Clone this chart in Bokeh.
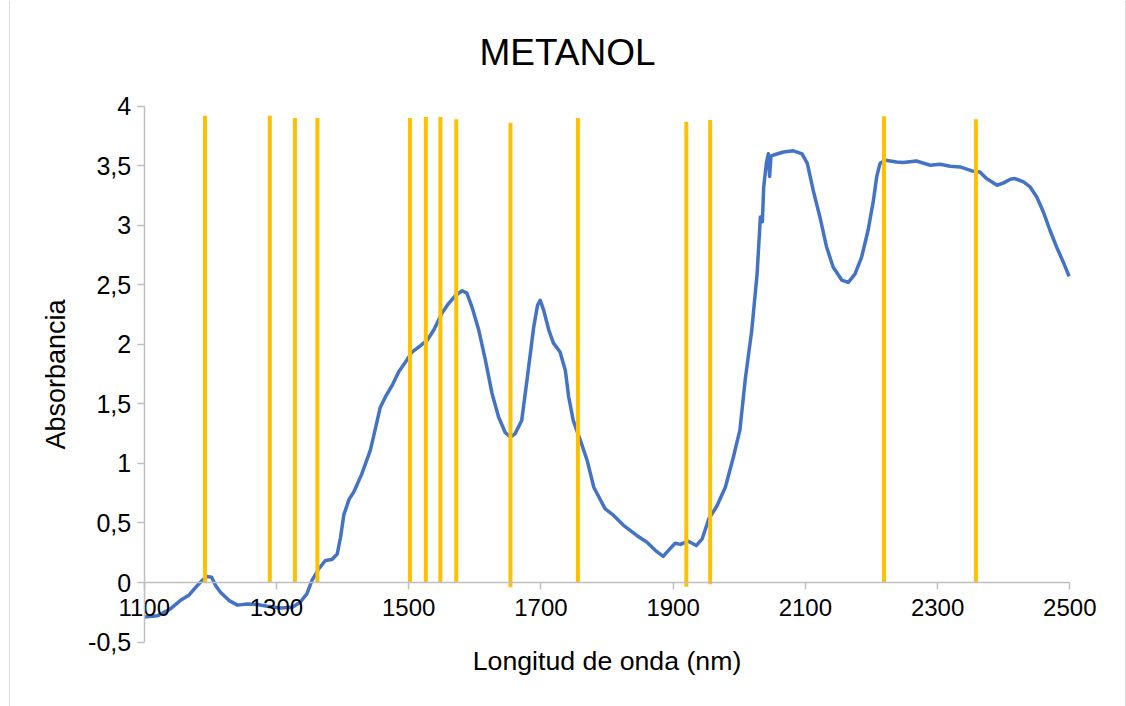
from bokeh.plotting import figure
from bokeh.models import Range1d, FixedTicker, Label, Span
from bokeh.embed import file_html
from bokeh.resources import INLINE

# ---------------- data ----------------
wavelength = [1100, 1120, 1140, 1155, 1167, 1178, 1188, 1195, 1202, 1208, 1215, 1228, 1241, 1256,
              1271, 1286, 1306, 1324, 1336, 1346, 1354, 1364, 1374, 1384, 1392, 1397, 1402, 1410,
              1417, 1429, 1442, 1450, 1457, 1465, 1475, 1485, 1495, 1505, 1518, 1528, 1538, 1550,
              1560, 1571, 1581, 1588, 1596, 1606, 1616, 1626, 1636, 1646, 1654, 1661, 1671, 1679,
              1689, 1695, 1699, 1704, 1712, 1719, 1729, 1737, 1742, 1749, 1760, 1770, 1780, 1797,
              1810, 1825, 1845, 1860, 1873, 1885, 1893, 1903, 1911, 1923, 1935, 1944, 1954, 1966,
              1979, 1991, 2001, 2009, 2019, 2027, 2032, 2035, 2037, 2041, 2044, 2046, 2048, 2052, 2067,
              2082, 2095, 2103, 2112, 2122, 2132, 2142, 2155, 2165, 2175, 2185, 2195, 2203, 2208,
              2213, 2221, 2238, 2248, 2268, 2289, 2304, 2319, 2334, 2352, 2364, 2374, 2390, 2400,
              2410, 2417, 2430, 2440, 2450, 2460, 2470, 2480, 2490, 2499]
absorbance = [-0.29, -0.28, -0.22, -0.15, -0.11, -0.04, 0.02, 0.05, 0.045, -0.025, -0.08, -0.15, -0.19, -0.18,
              -0.185, -0.20, -0.215, -0.207, -0.165, -0.095, 0.02, 0.115, 0.185, 0.193, 0.24, 0.38, 0.57, 0.70,
              0.76, 0.91, 1.11, 1.30, 1.47, 1.56, 1.655, 1.77, 1.85, 1.935, 1.99, 2.035, 2.12, 2.26,
              2.34, 2.41, 2.45, 2.43, 2.31, 2.12, 1.87, 1.59, 1.39, 1.26, 1.22, 1.25, 1.36, 1.70,
              2.14, 2.33, 2.37, 2.29, 2.12, 2.01, 1.935, 1.78, 1.56, 1.36, 1.19, 1.025, 0.80, 0.62,
              0.563, 0.48, 0.395, 0.34, 0.27, 0.22, 0.27, 0.33, 0.32, 0.347, 0.31, 0.367, 0.535, 0.64,
              0.80, 1.05, 1.28, 1.70, 2.12, 2.59, 3.07, 3.03, 3.32, 3.52, 3.60, 3.41, 3.58, 3.59, 3.615,
              3.625, 3.60, 3.52, 3.29, 3.07, 2.82, 2.65, 2.54, 2.52, 2.59, 2.73, 2.96, 3.21, 3.41,
              3.52, 3.546, 3.532, 3.527, 3.54, 3.504, 3.513, 3.496, 3.49, 3.456, 3.448, 3.392, 3.336, 3.356,
              3.387, 3.392, 3.364, 3.322, 3.238, 3.112, 2.958, 2.818, 2.692, 2.571]

band_x = [1192, 1290, 1328, 1362, 1502, 1526, 1548, 1572, 1654, 1756, 1920, 1956, 2219, 2358]
band_top = [3.92, 3.92, 3.90, 3.90, 3.90, 3.91, 3.91, 3.89, 3.86, 3.90, 3.87, 3.885, 3.915, 3.89]
band_bottom = [0, 0, 0, 0, 0, 0, 0, 0, -0.04, 0, -0.035, -0.015, 0, 0]

x_ticks = [1100, 1300, 1500, 1700, 1900, 2100, 2300, 2500]
y_ticks = [-0.5, 0, 0.5, 1, 1.5, 2, 2.5, 3, 3.5, 4]
y_tick_labels = ["-0,5", "0", "0,5", "1", "1,5", "2", "2,5", "3", "3,5", "4"]

title_text = "METANOL"
x_label = "Longitud de onda (nm)"
y_label = "Absorbancia"

FONT = "Liberation Sans"

# The plotting frame covers the whole canvas; axes are drawn at fixed locations
X_START, X_END = 882.65, 2585.76
Y_START, Y_END = -1.0413, 4.8875

p = figure(width=1126, height=706, output_backend="svg", toolbar_location=None, title=None,
           x_range=Range1d(X_START, X_END), y_range=Range1d(Y_START, Y_END),
           min_border=0, min_border_left=0, min_border_right=0, min_border_top=0, min_border_bottom=0)
p.outline_line_color = None
p.xgrid.visible = False
p.ygrid.visible = False
p.background_fill_color = "white"
p.border_fill_color = "white"

# chart-area border (left / right)
for loc in (896.3, 2584.2):
    p.add_layout(Span(location=loc, dimension="height", line_color="#D9D9D9", line_width=1))

# curve
p.line(wavelength, absorbance, line_color="#4472C4", line_width=3.5, line_join="round")

# band markers
p.segment(x0=band_x, y0=band_bottom, x1=band_x, y1=band_top, line_color="#FFC000", line_width=4)

# x axis at y=0
xa = p.xaxis[0]
xa.fixed_location = 0
xa.bounds = (x_ticks[0], x_ticks[-1])
xa.ticker = FixedTicker(ticks=x_ticks)
xa.axis_line_color = "#BFBFBF"
xa.axis_line_width = 1.5
xa.major_tick_line_color = "#BFBFBF"
xa.major_tick_line_width = 1.5
xa.major_tick_out = 7
xa.major_tick_in = 0
xa.minor_tick_line_color = None
xa.major_label_text_font = FONT
xa.major_label_text_font_size = "24px"
xa.major_label_text_color = "black"
xa.major_label_standoff = 9

# y axis at x=1100
ya = p.yaxis[0]
ya.fixed_location = x_ticks[0]
ya.bounds = (y_ticks[0], y_ticks[-1])
ya.ticker = FixedTicker(ticks=y_ticks)
ya.major_label_overrides = {t: l for t, l in zip(y_ticks, y_tick_labels)}
ya.axis_line_color = "#BFBFBF"
ya.axis_line_width = 1.5
ya.major_tick_line_color = "#BFBFBF"
ya.major_tick_line_width = 1.5
ya.major_tick_out = 7
ya.major_tick_in = 0
ya.minor_tick_line_color = None
ya.major_label_text_font = FONT
ya.major_label_text_font_size = "25px"
ya.major_label_text_color = "black"
ya.major_label_standoff = 6
ya.axis_label = y_label
ya.axis_label_text_font = FONT
ya.axis_label_text_font_size = "27px"
ya.axis_label_text_font_style = "normal"
ya.axis_label_text_color = "black"
ya.axis_label_standoff = 14

# title and x-axis title
p.add_layout(Label(x=1740.3, y=4.451, text=title_text, text_align="center", text_baseline="middle",
                   text_font=FONT, text_font_size="37px", text_color="black"))
p.add_layout(Label(x=1800, y=-0.663, text=x_label, text_align="center", text_baseline="middle",
                   text_font=FONT, text_font_size="26.7px", text_color="black"))

open("out.html", "w").write(file_html(p, INLINE))
